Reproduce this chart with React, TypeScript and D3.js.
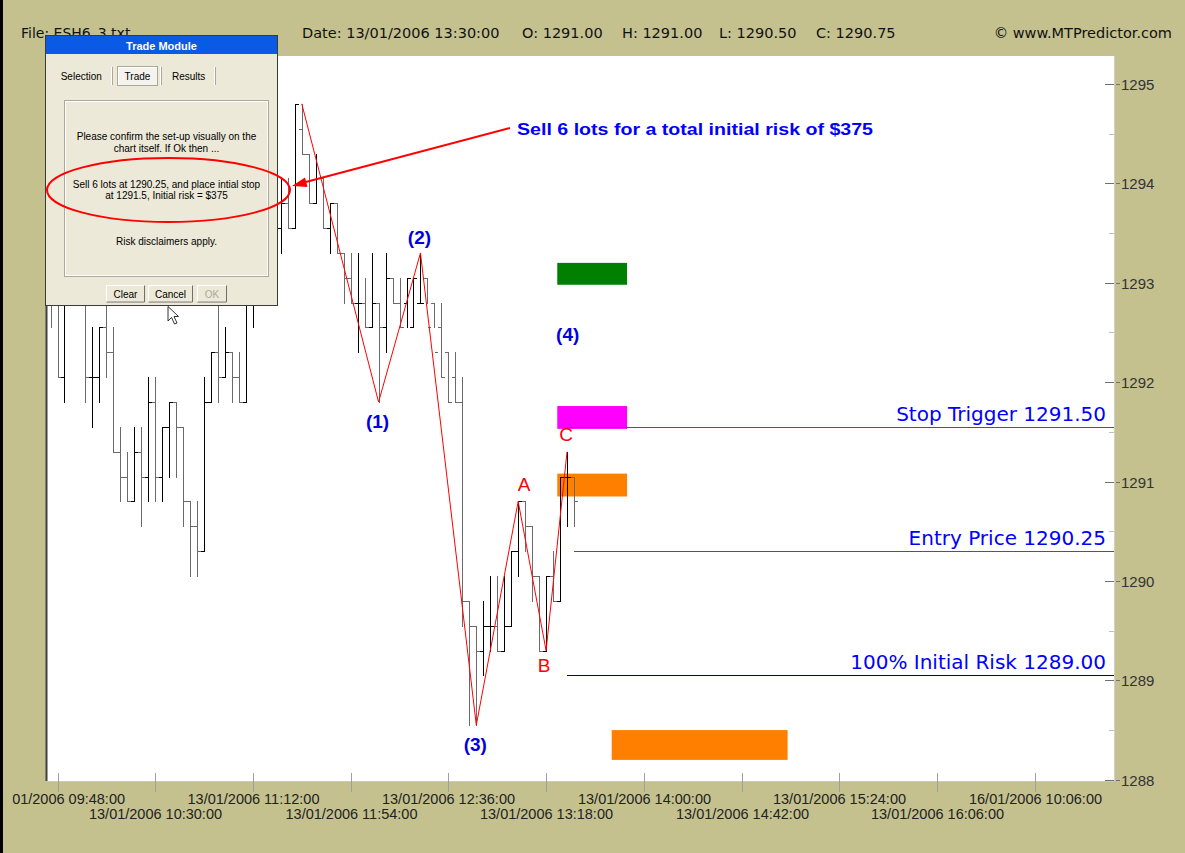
import React from 'react';
import * as d3 from 'd3';

const W = 1185;
const H = 853;

// 3-minute bars, 13/01/2006
const barTimes = [
  '09:45','09:48','09:51','09:54','09:57','10:00','10:03','10:06','10:09','10:12',
  '10:15','10:18','10:21','10:24','10:27','10:30','10:33','10:36','10:39','10:42',
  '10:45','10:48','10:51','10:54','10:57','11:00','11:03','11:06','11:09','11:12',
  '11:15','11:18','11:21','11:24','11:27','11:30','11:33','11:36','11:39','11:42',
  '11:45','11:48','11:51','11:54','11:57','12:00','12:03','12:06','12:09','12:12',
  '12:15','12:18','12:21','12:24','12:27','12:30','12:33','12:36','12:39','12:42',
  '12:45','12:48','12:51','12:54','12:57','13:00','13:03','13:06','13:09','13:12',
  '13:15','13:18','13:21','13:24','13:27','13:30',
];
const opens = [
  1293.00,1292.75,1292.00,1292.75,1293.25,1293.00,1292.00,1292.00,1292.50,1292.25,
  1291.25,1291.00,1290.75,1291.25,1291.00,1291.75,1291.00,1291.50,1291.75,1291.50,
  1290.75,1290.50,1290.25,1291.75,1292.25,1292.00,1292.25,1292.00,1291.75,1293.00,
  1293.25,1293.50,1293.50,1293.50,1293.75,1293.50,1294.50,1294.25,1293.75,1294.00,
  1293.50,1293.75,1293.25,1293.00,1292.75,1292.75,1292.50,1292.75,1292.50,1293.00,
  1292.75,1292.75,1292.50,1292.75,1293.00,1292.75,1292.50,1292.25,1292.00,1291.75,
  1289.75,1289.50,1289.25,1289.50,1289.50,1289.25,1289.50,1290.25,1290.75,1290.50,
  1290.00,1289.25,1290.00,1289.75,1291.00,1291.00,
];
const highs = [
  1293.25,1293.00,1293.00,1293.50,1293.50,1293.00,1292.50,1292.50,1293.00,1292.50,
  1291.50,1291.25,1291.50,1291.50,1292.00,1292.00,1291.50,1291.75,1291.75,1291.50,
  1290.75,1290.75,1292.00,1292.25,1293.00,1292.50,1292.25,1292.25,1293.25,1293.50,
  1293.75,1293.75,1294.00,1294.00,1294.00,1294.75,1294.75,1294.25,1294.25,1294.00,
  1293.75,1293.75,1293.25,1293.25,1293.25,1293.00,1293.25,1292.75,1293.25,1293.00,
  1293.00,1293.00,1293.00,1293.25,1293.00,1292.75,1292.75,1292.25,1292.25,1292.00,
  1289.75,1289.50,1289.75,1290.00,1290.00,1290.00,1290.25,1290.75,1290.75,1290.50,
  1290.00,1290.00,1290.25,1291.00,1291.25,1291.00,
];
const lows = [
  1292.50,1292.00,1291.75,1292.75,1292.75,1291.75,1291.50,1291.75,1292.00,1291.25,
  1290.75,1290.75,1290.75,1290.50,1290.75,1290.75,1290.75,1291.00,1291.00,1290.50,
  1290.00,1290.00,1290.25,1291.75,1291.75,1292.00,1291.75,1291.75,1291.75,1292.50,
  1293.00,1293.25,1293.25,1293.25,1293.50,1293.50,1294.25,1293.75,1293.75,1293.50,
  1293.25,1293.25,1292.75,1292.75,1292.25,1292.50,1292.50,1291.75,1292.25,1292.75,
  1292.50,1292.50,1292.50,1292.75,1292.75,1292.50,1292.00,1291.75,1291.75,1289.50,
  1288.50,1288.50,1289.00,1289.25,1289.25,1289.25,1289.50,1290.00,1290.25,1289.75,
  1289.25,1289.25,1289.75,1289.75,1290.50,1290.50,
];
const closes = [
  1292.75,1292.00,1292.75,1293.25,1293.00,1292.00,1292.00,1292.50,1292.25,1291.25,
  1291.00,1290.75,1291.25,1291.00,1291.75,1291.00,1291.50,1291.75,1291.50,1290.75,
  1290.50,1290.25,1291.75,1292.25,1292.00,1292.25,1292.00,1291.75,1293.00,1293.25,
  1293.50,1293.50,1293.50,1293.75,1293.50,1294.75,1294.25,1293.75,1294.00,1293.50,
  1293.75,1293.25,1293.00,1292.75,1292.75,1292.50,1292.75,1292.50,1293.00,1292.75,
  1292.50,1293.00,1293.00,1292.75,1292.50,1292.25,1292.00,1291.75,1291.75,1289.75,
  1289.50,1289.25,1289.50,1289.50,1289.25,1289.50,1290.25,1290.75,1290.50,1290.00,
  1289.25,1290.00,1289.75,1291.00,1291.00,1290.75,
];

// wave pivots (red zig-zag)
const pivotTimes = ['11:33','12:06','12:24','12:48','13:06','13:18','13:27'];
const pivotPrices = [1294.75,1291.75,1293.25,1288.50,1290.75,1289.25,1291.25];
const pivotLabels = ['','(1)','(2)','(3)','A','B','C'];
const pivotLabelKinds = ['','wave','wave','wave','abc','abc','abc'];
const pivotLabelSides = [0,1,-1,1,-1,1,-1];

// projection boxes: [slot start, slot end, price low, price high]
const boxSlotStart = [71.6, 71.6, 71.6, 79.4];
const boxSlotEnd = [81.6, 81.6, 81.6, 104.6];
const boxLow = [1292.93, 1291.48, 1290.80, 1288.15];
const boxHigh = [1293.15, 1291.71, 1291.03, 1288.45];
const boxColors = ['#007F00', '#FF00FF', '#FF8000', '#FF8000'];

// levels
const levelNames = ['Stop Trigger 1291.50', 'Entry Price 1290.25', '100% Initial Risk 1289.00'];
const levelPrices = [1291.5, 1290.25, 1289.0];
const levelStartTimes = ['13:27', '13:30', '13:27'];

const yTickValues = [1288, 1289, 1290, 1291, 1292, 1293, 1294, 1295];
const xTickSlots = [0, 14, 28, 42, 56, 70, 84, 98, 112, 126, 140];
const xTickLabels = [
  '13/01/2006 09:48:00','13/01/2006 10:30:00','13/01/2006 11:12:00','13/01/2006 11:54:00',
  '13/01/2006 12:36:00','13/01/2006 13:18:00','13/01/2006 14:00:00','13/01/2006 14:42:00',
  '13/01/2006 15:24:00','13/01/2006 16:06:00','16/01/2006 10:06:00',
];

const headerItems = ['Date: 13/01/2006 13:30:00', 'O: 1291.00', 'H: 1291.00', 'L: 1290.50', 'C: 1290.75'];

const slotOf = (t: string) => {
  const [h, m] = t.split(':').map(Number);
  return (h * 60 + m - 588) / 3;
};

export default function App() {
  const PL = 46, PR = 1114, PT = 56, PB = 781;
  const x = d3.scaleLinear().domain([0, 140]).range([57.5, 1034.7]);
  const y = d3.scaleLinear().domain([1288, 1295]).range([774.8, 79]);
  const yAx = d3.scaleLinear().domain([1288, 1295]).range([779.8, 84]);
  const cr = (v: number) => Math.round(v) + 0.5;

  const zig = d3.line<number>()
    .x((_, i) => x(slotOf(pivotTimes[i])))
    .y((p) => y(p));

  const sans = 'Liberation Sans, Arial, sans-serif';
  const dejavu = 'DejaVu Sans, Verdana, sans-serif';

  const dlgX = 45, dlgY = 35, dlgW = 233, dlgH = 271;

  return (
    <svg width={W} height={H} viewBox={`0 0 ${W} ${H}`}
      style={{ position: 'absolute', left: 0, top: 0, display: 'block' }}>
      <defs>
        <clipPath id="axisClip">
          <rect x={12.5} y={0} width={W - 12.5} height={H} />
        </clipPath>
      </defs>
      <rect x={0} y={0} width={W} height={H} fill="#C4C18F" />
      {/* plot area */}
      <rect x={PL} y={PT} width={PR - PL} height={PB - PT} fill="#FFFFFF" />
      <line x1={PL + 0.5} x2={PL + 0.5} y1={PT} y2={PB} stroke="#404040" strokeWidth={2} />
      <line x1={PL} x2={PR} y1={PB + 0.5} y2={PB + 0.5} stroke="#C8C8C8" />
      <line x1={PR + 0.5} x2={PR + 0.5} y1={PT} y2={PB} stroke="#D0D0D0" />

      {/* projection boxes */}
      {boxColors.map((c, i) => (
        <rect key={`b${i}`} x={x(boxSlotStart[i])} width={x(boxSlotEnd[i]) - x(boxSlotStart[i])}
          y={y(boxHigh[i])} height={y(boxLow[i]) - y(boxHigh[i])} fill={c} />
      ))}

      {/* OHLC bars */}
      <g shapeRendering="crispEdges" strokeWidth={1}>
        {barTimes.map((t, k) => {
          const cx = cr(x(slotOf(t)));
          const col = closes[k] >= opens[k] ? '#000000' : '#6A6A6A';
          const yo = cr(y(opens[k]));
          const yc = cr(y(closes[k]));
          return (
            <g key={t} stroke={col}>
              <line x1={cx} x2={cx} y1={Math.round(y(highs[k]))} y2={Math.round(y(lows[k])) + 1} />
              <line x1={cx - 3.5} x2={cx} y1={yo} y2={yo} />
              <line x1={cx} x2={cx + 3.5} y1={yc} y2={yc} />
            </g>
          );
        })}
      </g>

      {/* zig-zag */}
      <path d={zig(pivotPrices) || ''} fill="none" stroke="#FF0000" strokeWidth={1} />

      {/* wave labels */}
      {pivotLabels.map((lab, i) => {
        if (!lab) return null;
        const px = x(slotOf(pivotTimes[i]));
        const py = y(pivotPrices[i]);
        const wave = pivotLabelKinds[i] === 'wave';
        const dy = pivotLabelSides[i] > 0 ? (wave ? 19 : 15) : (wave ? -15 : -17);
        const dx = lab === 'A' ? 6 : lab === 'B' ? -2 : lab === 'C' ? -1 : -1;
        return (
          <text key={`l${i}`} x={px + dx} y={py + dy} textAnchor="middle" dominantBaseline="central"
            fontFamily={sans} fontSize={19} fontWeight={wave ? 'bold' : 'normal'}
            fill={wave ? '#0000E0' : '#FF0000'}>{lab}</text>
        );
      })}
      <text x={x(73.1)} y={y(1292.43)} textAnchor="middle" dominantBaseline="central"
        fontFamily={sans} fontSize={19} fontWeight="bold" fill="#0000E0">(4)</text>

      {/* levels */}
      {levelNames.map((n, i) => {
        const ly = cr(y(levelPrices[i]));
        return (
          <g key={n}>
            <line x1={x(slotOf(levelStartTimes[i]))} x2={PR} y1={ly} y2={ly}
              stroke={i === 2 ? '#000080' : '#4040FF'} shapeRendering="crispEdges" />
            <text x={1106} y={ly - 7} textAnchor="end" fontFamily={dejavu} fontSize={20}
              fill="#0000FF">{n}</text>
          </g>
        );
      })}

      {/* y axis */}
      <g shapeRendering="crispEdges">
        {yTickValues.map((v) => {
          const ty = cr(yAx(v));
          return (
            <g key={v}>
              <line x1={1105} x2={PR} y1={ty} y2={ty} stroke="#707070" />
              <line x1={1116} x2={1120} y1={ty} y2={ty} stroke="#707070" />
              <text x={1121} y={ty} dominantBaseline="central" fontFamily={sans} fontSize={15}
                fill="#333333">{v}</text>
            </g>
          );
        })}
        {yTickValues.slice(0, -1).map((v) => {
          const ty = cr(yAx(v + 0.5));
          return <line key={`m${v}`} x1={1109} x2={PR} y1={ty} y2={ty} stroke="#C0C0C0" />;
        })}
      </g>

      {/* x axis */}
      <g clipPath="url(#axisClip)">
        {xTickSlots.map((s, i) => {
          const tx = cr(x(s));
          return (
            <g key={s}>
              <line x1={tx} x2={tx} y1={773} y2={792} stroke="#A0A0A0" shapeRendering="crispEdges" />
              <text x={tx} y={i % 2 === 0 ? 804 : 819} textAnchor="middle" fontFamily={sans}
                fontSize={14.5} fill="#222222">{xTickLabels[i]}</text>
            </g>
          );
        })}
      </g>

      {/* frame */}
      <rect x={0} y={0} width={3} height={H} fill="#000000" />

      {/* header */}
      <text x={21} y={38} fontFamily={dejavu} fontSize={14} fill="#111">File: ESH6_3.txt</text>
      {headerItems.map((h, i) => (
        <text key={h} x={[302, 522, 622, 719, 816][i]} y={38} fontFamily={dejavu} fontSize={14.5}
          fill="#111">{h}</text>
      ))}
      <text x={1172} y={38} textAnchor="end" fontFamily={dejavu} fontSize={14.5} fill="#111">© www.MTPredictor.com</text>

      {/* Trade Module dialog */}
      <g>
        <rect x={dlgX} y={dlgY} width={dlgW} height={dlgH} fill="#ECE9D8" />
        <rect x={dlgX + 0.5} y={dlgY + 0.5} width={dlgW - 1} height={dlgH - 1} fill="none" stroke="#3A3A3A" />
        <rect x={dlgX + 1} y={dlgY + 1} width={dlgW - 2} height={18} fill="#0A5AE6" />
        <text x={dlgX + dlgW / 2} y={dlgY + 11} textAnchor="middle" dominantBaseline="central"
          fontFamily={sans} fontSize={11} fontWeight="bold" fill="#FFFFFF">Trade Module</text>
        {/* tabs */}
        <text x={60.7} y={76} dominantBaseline="central" fontFamily={sans} fontSize={10} fill="#000">Selection</text>
        <line x1={111.5} x2={111.5} y1={67} y2={85} stroke="#FFFFFF" />
        <line x1={112.5} x2={112.5} y1={67} y2={85} stroke="#ACA899" />
        <rect x={117.5} y={66.5} width={40} height={19} fill="#F4F3EE" stroke="#ACA899" />
        <line x1={118} x2={157} y1={67.5} y2={67.5} stroke="#FFFFFF" />
        <line x1={118.5} x2={118.5} y1={67} y2={85} stroke="#FFFFFF" />
        <text x={137.5} y={76} textAnchor="middle" dominantBaseline="central" fontFamily={sans} fontSize={10} fill="#000">Trade</text>
        <line x1={160.5} x2={160.5} y1={67} y2={85} stroke="#FFFFFF" />
        <line x1={161.5} x2={161.5} y1={67} y2={85} stroke="#ACA899" />
        <text x={172} y={76} dominantBaseline="central" fontFamily={sans} fontSize={10} fill="#000">Results</text>
        <line x1={214.5} x2={214.5} y1={67} y2={85} stroke="#FFFFFF" />
        <line x1={215.5} x2={215.5} y1={67} y2={85} stroke="#ACA899" />
        {/* inner panel */}
        <rect x={64.5} y={100.5} width={204} height={176} fill="none" stroke="#ACA899" />
        <rect x={65.5} y={101.5} width={202} height={174} fill="none" stroke="#FFFFFF" />
        {[
          ['Please confirm the set-up visually on the', 136.5],
          ['chart itself. If Ok then ...', 148.5],
          ['Sell 6 lots at 1290.25, and place intial stop', 184],
          ['at 1291.5, Initial risk = $375', 195],
          ['Risk disclaimers apply.', 241.5],
        ].map(([s, yy]) => (
          <text key={s as string} x={166.5} y={yy as number} textAnchor="middle" dominantBaseline="central"
            fontFamily={sans} fontSize={10} fill="#000">{s}</text>
        ))}
        {/* buttons */}
        {[['Clear', 106, 38, '#000'], ['Cancel', 148, 44, '#000'], ['OK', 197, 29, '#ACA899']].map(([lab, bx, bw, c]) => (
          <g key={lab as string}>
            <rect x={(bx as number) + 0.5} y={285.5} width={bw as number} height={16} fill="#ECE9D8" stroke="#FFFFFF" />
            <path d={`M${(bx as number) + 0.5},${302} H${(bx as number) + (bw as number) + 0.5} V${285.5}`}
              fill="none" stroke="#716F64" />
            <text x={(bx as number) + (bw as number) / 2 + 0.5} y={294} textAnchor="middle" dominantBaseline="central"
              fontFamily={sans} fontSize={10} fill={c as string}>{lab}</text>
          </g>
        ))}
      </g>

      {/* mouse cursor */}
      <path d="M168,306.5 L168,321 L171.5,317.5 L174.5,324 L177,323 L174,316.5 L178.5,316.5 Z"
        fill="#FFFFFF" stroke="#000000" strokeWidth={0.8} />

      {/* red ellipse & arrow */}
      <ellipse cx={168.5} cy={190} rx={121.5} ry={32} fill="none" stroke="#FF0000" strokeWidth={2} />
      <line x1={510} y1={128} x2={302} y2={183} stroke="#FF0000" strokeWidth={2} />
      <path d="M292,186 L305,177.5 L307.5,187 Z" fill="#FF0000" />
      <text x={517} y={129} dominantBaseline="central" fontFamily={sans} fontSize={17} fontWeight="bold"
        fill="#0000FF" textLength={356} lengthAdjust="spacingAndGlyphs">Sell 6 lots for a total initial risk of $375</text>
    </svg>
  );
}
